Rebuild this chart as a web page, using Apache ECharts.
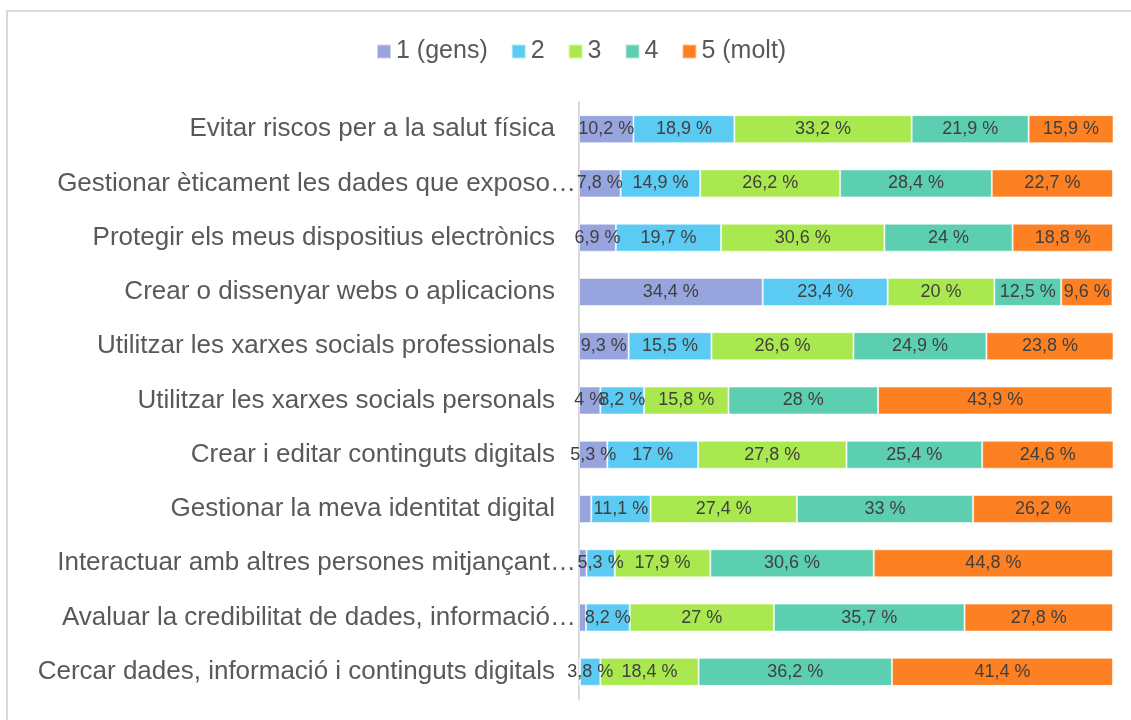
<!DOCTYPE html>
<html>
<head>
<meta charset="utf-8">
<script src="https://cdn.jsdelivr.net/npm/echarts@6/dist/echarts.min.js"></script>
<style>
html,body{margin:0;padding:0;background:#fff;}
#chart{width:1131px;height:720px;}
</style>
</head>
<body>
<div id="chart"></div>
<script>
const categories = [
  "Evitar riscos per a la salut física",
  "Gestionar èticament les dades que exposo…",
  "Protegir els meus dispositius electrònics",
  "Crear o dissenyar webs o aplicacions",
  "Utilitzar les xarxes socials professionals",
  "Utilitzar les xarxes socials personals",
  "Crear i editar continguts digitals",
  "Gestionar la meva identitat digital",
  "Interactuar amb altres persones mitjançant…",
  "Avaluar la credibilitat de dades, informació…",
  "Cercar dades, informació i continguts digitals"
];
const seriesNames = ["1 (gens)", "2", "3", "4", "5 (molt)"];
const s1 = [10.2, 7.8, 6.9, 34.4, 9.3, 4, 5.3, 2.3, 1.4, 1.3, 0.2];
const s2 = [18.9, 14.9, 19.7, 23.4, 15.5, 8.2, 17, 11.1, 5.3, 8.2, 3.8];
const s3 = [33.2, 26.2, 30.6, 20, 26.6, 15.8, 27.8, 27.4, 17.9, 27, 18.4];
const s4 = [21.9, 28.4, 24, 12.5, 24.9, 28, 25.4, 33, 30.6, 35.7, 36.2];
const s5 = [15.9, 22.7, 18.8, 9.6, 23.8, 43.9, 24.6, 26.2, 44.8, 27.8, 41.4];
const colors = ["#97a4de", "#5ccbf4", "#a9e94f", "#5dcfb1", "#fd8022"];

const allData = [s1, s2, s3, s4, s5];
const chart = echarts.init(document.getElementById('chart'), null, {renderer: 'canvas'});
const font = '"Liberation Sans", Arial, sans-serif';

const series = allData.map((d, i) => ({
  name: seriesNames[i],
  type: 'bar',
  stack: 'total',
  data: d,
  barWidth: 28,
  itemStyle: {color: colors[i], borderColor: 'rgba(255,255,255,0.55)', borderWidth: 1},
  label: {
    show: true,
    position: 'inside',
    color: '#404040',
    fontFamily: font,
    fontSize: 18,
    formatter: p => p.value < 3 ? '' : String(p.value).replace('.', ',') + ' %'
  },
  emphasis: {disabled: true}
}));

chart.setOption({
  backgroundColor: '#fff',
  animation: false,
  color: colors,
  graphic: [{
    type: 'rect',
    shape: {x: 7, y: 11, width: 1400, height: 1000},
    style: {fill: 'none', stroke: '#d9d9d9', lineWidth: 2},
    silent: true
  }],
  legend: {
    top: 34,
    left: 371,
    icon: 'rect',
    itemWidth: 14,
    itemHeight: 14,
    itemGap: 23,
    textStyle: {fontFamily: font, fontSize: 25, color: '#595959'},
    data: seriesNames
  },
  grid: {left: 579, right: 18, top: 102, bottom: 21, containLabel: false},
  xAxis: {
    type: 'value', min: 0, max: 100, show: false
  },
  yAxis: {
    type: 'category',
    inverse: true,
    data: categories,
    axisLine: {show: true, lineStyle: {color: '#d9d9d9', width: 2}},
    axisTick: {show: false},
    axisLabel: {
      margin: 3,
      fontFamily: font,
      fontSize: 26,
      color: '#595959',
      formatter: v => v.endsWith('…') ? v : v + '{g|}',
      rich: {g: {width: 21}}
    }
  },
  series: series
});
</script>
</body>
</html>
